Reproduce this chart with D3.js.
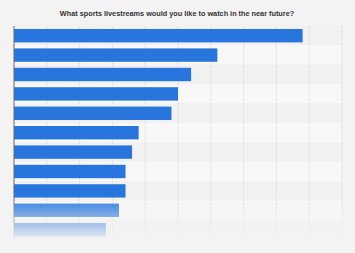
<!DOCTYPE html>
<html>
<head>
<meta charset="utf-8">
<script src="https://cdn.jsdelivr.net/npm/d3@7"></script>
<style>
  body { margin: 0; background: #f3f3f3; }
  svg { display: block; }
</style>
</head>
<body>
<div id="graf"></div>
<script>
// Datos (%)
categorias = ['c1', 'c2', 'c3', 'c4', 'c5', 'c6', 'c7', 'c8', 'c9', 'c10', 'c11']
valores = [44, 31, 27, 25, 24, 19, 18, 17, 17, 16, 14]
ticks = [0, 5, 10, 15, 20, 25, 30, 35, 40, 45, 50]
titulo = 'What sports livestreams would you like to watch in the near future?'

ancho_total = 355
alto_total = 253
margins = { top: 26, left: 14, right: 13, bottom: 20 }
ancho = ancho_total - margins.left - margins.right
alto = categorias.length * 19.4

svg = d3.select('#graf').append('svg')
  .attr('width', ancho_total)
  .attr('height', alto_total)

svg.append('rect').attr('width', ancho_total).attr('height', alto_total).attr('fill', '#f3f3f3')

svg.append('text')
  .attr('x', 177).attr('y', 16)
  .attr('text-anchor', 'middle')
  .style('font-family', 'Arial, "Liberation Sans", sans-serif')
  .style('font-size', '7.3px')
  .style('font-weight', 'bold')
  .attr('fill', '#333')
  .text(titulo)

g = svg.append('g').attr('transform', `translate(${margins.left}, ${margins.top})`)

x = d3.scaleLinear().domain([0, 50]).range([0, ancho])
y = d3.scaleBand().domain(categorias).range([0, alto]).paddingInner(0.31).paddingOuter(0.155)
banda = d3.scaleBand().domain(categorias).range([0, alto])

// Franjas
g.selectAll('.franja').data(categorias).join('rect')
  .attr('x', 0).attr('width', ancho)
  .attr('y', d => banda(d)).attr('height', banda.bandwidth())
  .attr('fill', (d, i) => i % 2 ? '#f8f8f8' : '#f1f1f1')

// Rejilla
g.selectAll('.grid').data(ticks.slice(1)).join('line')
  .attr('x1', d => x(d)).attr('x2', d => x(d))
  .attr('y1', 0).attr('y2', alto)
  .attr('stroke', '#dcdcdc')
  .attr('stroke-width', 0.8)
  .attr('stroke-dasharray', '3,1')

// Barras
g.selectAll('.barra').data(valores).join('rect')
  .attr('x', 0)
  .attr('y', (d, i) => y(categorias[i]))
  .attr('height', y.bandwidth())
  .attr('width', d => x(d))
  .attr('fill', '#2876dd')

// Eje
g.append('line').attr('x1', 0).attr('x2', 0).attr('y1', 0).attr('y2', alto)
  .attr('stroke', '#666').attr('stroke-width', 1)

// Degradado inferior
defs = svg.append('defs')
grad = defs.append('linearGradient').attr('id', 'fade').attr('x1', 0).attr('x2', 0).attr('y1', 0).attr('y2', 1)
grad.append('stop').attr('offset', '0%').attr('stop-color', '#f3f3f3').attr('stop-opacity', 0)
grad.append('stop').attr('offset', '100%').attr('stop-color', '#f3f3f3').attr('stop-opacity', 1)

svg.append('rect')
  .attr('x', 0).attr('y', 196)
  .attr('width', ancho_total).attr('height', 46)
  .attr('fill', 'url(#fade)')
svg.append('rect')
  .attr('x', 0).attr('y', 242)
  .attr('width', ancho_total).attr('height', 11)
  .attr('fill', '#f3f3f3')
</script>
</body>
</html>
